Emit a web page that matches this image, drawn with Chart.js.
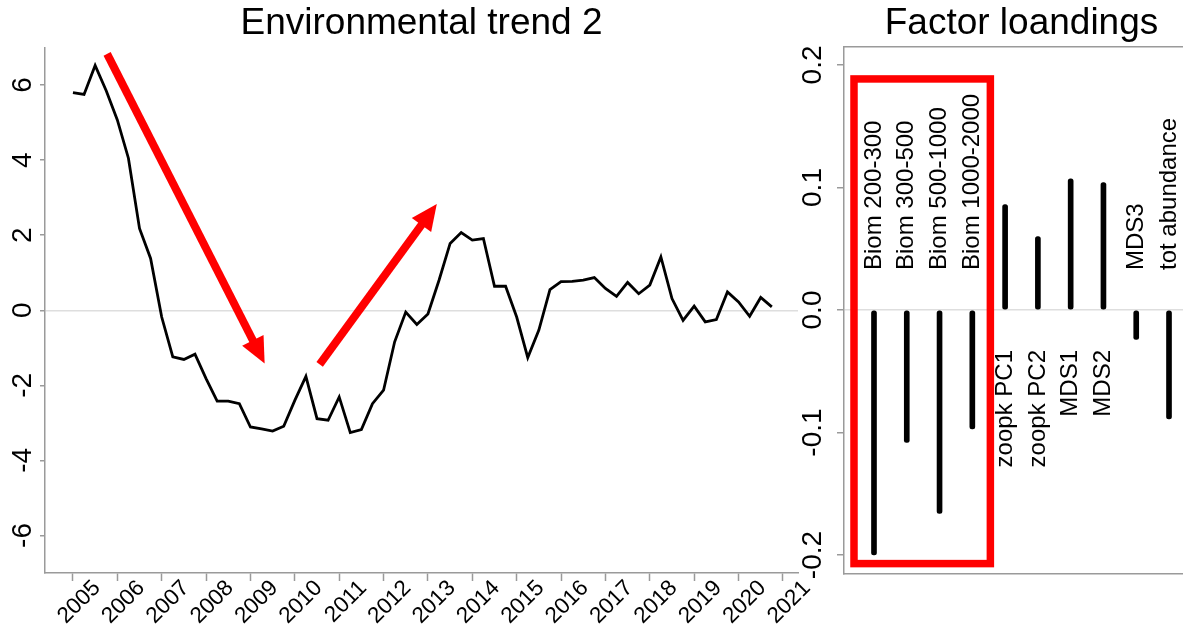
<!DOCTYPE html>
<html>
<head>
<meta charset="utf-8">
<title>Environmental trend 2 / Factor loandings</title>
<script src="https://cdn.jsdelivr.net/npm/chart.js@4.4.1/dist/chart.umd.min.js"></script>
<style>
    html, body { margin: 0; padding: 0; background: #fff; overflow: hidden; }
    body { width: 1183px; height: 632px; position: relative; }
    #trendBox { position: absolute; left: 0; top: 0; width: 830px; height: 632px; }
    #loadingBox { position: absolute; left: 790px; top: 0; width: 409px; height: 632px; }
</style>
</head>
<body>
<div id="trendBox"><canvas id="trendChart"></canvas></div>
<div id="loadingBox"><canvas id="loadingChart"></canvas></div>
<script>
// Environmental trend 2 - quarterly values, first one is 2005 Q1
const trendStartYear = 2005;
const trendValues = [
    5.80, 5.75, 6.52, 5.85,
    5.07, 4.05, 2.18, 1.38,
    -0.18, -1.24, -1.31, -1.17,
    -1.82, -2.42, -2.42, -2.49,
    -3.11, -3.16, -3.22, -3.09,
    -2.40, -1.76, -2.89, -2.93,
    -2.31, -3.26, -3.18, -2.49,
    -2.13, -0.84, -0.05, -0.38,
    -0.10, 0.80, 1.78, 2.07,
    1.87, 1.91, 0.64, 0.64,
    -0.18, -1.26, -0.53, 0.55,
    0.76, 0.77, 0.80, 0.87,
    0.58, 0.37, 0.74, 0.44,
    0.67, 1.42, 0.31, -0.27,
    0.11, -0.31, -0.25, 0.49,
    0.22, -0.16, 0.34, 0.09
];
const yearTicks = [2005, 2006, 2007, 2008, 2009, 2010, 2011, 2012, 2013,
    2014, 2015, 2016, 2017, 2018, 2019, 2020, 2021];
const trendTicks = [-6, -4, -2, 0, 2, 4, 6];

// Factor loadings
const loadingLabels = ['Biom 200-300', 'Biom 300-500', 'Biom 500-1000', 'Biom 1000-2000',
    'zoopk PC1', 'zoopk PC2', 'MDS1', 'MDS2', 'MDS3', 'tot abundance'];
const loadingValues = [-0.200, -0.108, -0.166, -0.097, 0.086, 0.060, 0.107, 0.104, -0.024, -0.089];
const loadingTicks = [-0.2, -0.1, 0, 0.1, 0.2];
const loadingTickLabels = ['-0.2', '-0.1', '0.0', '0.1', '0.2'];

const FONT = "'Liberation Sans', Arial, sans-serif";
const AXIS_GREY = '#9a9a9a';
Chart.defaults.font.family = FONT;
Chart.defaults.color = '#000';

// y tick labels turned 90 degrees (Chart.js only rotates x labels)
const rotatedYLabels = {
    id: 'rotatedYLabels',
    afterDraw(chart, args, opts) {
        const scale = chart.scales.y;
        const ctx = chart.ctx;
        ctx.save();
        ctx.font = opts.size + 'px ' + FONT;
        ctx.fillStyle = '#000';
        ctx.textAlign = 'center';
        ctx.textBaseline = 'middle';
        opts.values.forEach((v, i) => {
            ctx.save();
            ctx.translate(opts.x, scale.getPixelForValue(v));
            ctx.rotate(-Math.PI / 2);
            ctx.fillText(opts.labels[i], 0, 0);
            ctx.restore();
        });
        ctx.restore();
    }
};

// red arrows, given in data units
const redArrows = {
    id: 'redArrows',
    afterDatasetsDraw(chart, args, opts) {
        const { ctx, scales: { x, y } } = chart;
        ctx.save();
        ctx.strokeStyle = ctx.fillStyle = '#ff0000';
        ctx.lineWidth = opts.width;
        opts.arrows.forEach(a => {
            const x0 = x.getPixelForValue(a.from[0]), y0 = y.getPixelForValue(a.from[1]);
            const x1 = x.getPixelForValue(a.to[0]), y1 = y.getPixelForValue(a.to[1]);
            const len = Math.hypot(x1 - x0, y1 - y0);
            const ux = (x1 - x0) / len, uy = (y1 - y0) / len;
            const bx = x1 - ux * opts.head, by = y1 - uy * opts.head;
            ctx.beginPath();
            ctx.moveTo(x0, y0);
            ctx.lineTo(bx + ux, by + uy);
            ctx.stroke();
            ctx.beginPath();
            ctx.moveTo(x1, y1);
            ctx.lineTo(bx - uy * opts.half, by + ux * opts.half);
            ctx.lineTo(bx + uy * opts.half, by - ux * opts.half);
            ctx.closePath();
            ctx.fill();
        });
        ctx.restore();
    }
};

// vertical names next to each loading bar + red box
const loadingNotes = {
    id: 'loadingNotes',
    afterDatasetsDraw(chart, args, opts) {
        const { ctx, scales: { x, y } } = chart;
        const zero = y.getPixelForValue(0);
        const meta = chart.getDatasetMeta(0);
        ctx.save();
        ctx.font = opts.size + 'px ' + FONT;
        ctx.fillStyle = '#000';
        ctx.textBaseline = 'middle';
        meta.data.forEach((bar, i) => {
            const neg = loadingValues[i] < 0;
            ctx.save();
            ctx.translate(bar.x, neg ? zero - opts.gap : zero + opts.gap);
            ctx.rotate(-Math.PI / 2);
            ctx.textAlign = neg ? 'left' : 'right';
            ctx.fillText(loadingLabels[i], 0, 0);
            ctx.restore();
        });
        const b = opts.box;
        const left = x.getPixelForValue(b.x0), right = x.getPixelForValue(b.x1);
        const top = y.getPixelForValue(b.y1), bottom = y.getPixelForValue(b.y0);
        ctx.strokeStyle = '#ff0000';
        ctx.lineWidth = 7.5;
        ctx.strokeRect(left, top, right - left, bottom - top);
        ctx.restore();
    }
};

const zeroGrid = c => (c.tick && c.tick.value === 0 ? '#dedede' : 'rgba(0,0,0,0)');

new Chart(document.getElementById('trendChart'), {
    type: 'line',
    data: {
        datasets: [{
            data: trendValues.map((v, i) => ({ x: trendStartYear + i / 4, y: v })),
            borderColor: '#000',
            borderWidth: 2.8,
            pointRadius: 0,
            tension: 0,
            fill: false
        }]
    },
    options: {
        responsive: true,
        maintainAspectRatio: false,
        animation: false,
        layout: { padding: { left: 0, right: 32, top: 0, bottom: 0 } },
        scales: {
            x: {
                type: 'linear',
                min: 2004.37,
                max: 2021.34,
                afterBuildTicks: s => { s.ticks = yearTicks.map(v => ({ value: v })); },
                afterFit: s => { s.height = 59; s.paddingLeft = 0; s.paddingRight = 0; },
                grid: { drawOnChartArea: false, tickLength: 8, tickColor: AXIS_GREY, tickWidth: 1.5 },
                border: { color: AXIS_GREY, width: 1.5 },
                ticks: {
                    minRotation: 45, maxRotation: 45, autoSkip: false,
                    labelOffset: 24, padding: -6,
                    font: { size: 22.5 },
                    callback: v => String(v)
                }
            },
            y: {
                min: -7,
                max: 7,
                afterBuildTicks: s => { s.ticks = trendTicks.map(v => ({ value: v })); },
                afterFit: s => { s.width = 45; },
                grid: { color: zeroGrid, lineWidth: 1.5, tickLength: 5, tickColor: AXIS_GREY, tickWidth: 1.5 },
                border: { color: AXIS_GREY, width: 1.5 },
                ticks: { display: false }
            }
        },
        plugins: {
            legend: { display: false },
            tooltip: { enabled: false },
            title: {
                display: true,
                text: 'Environmental trend 2',
                fullSize: false,
                color: '#000',
                font: { size: 37, weight: 'normal' },
                padding: { top: 1.3, bottom: 1.8 }
            },
            rotatedYLabels: { values: trendTicks, labels: trendTicks.map(String), x: 23, size: 28 },
            redArrows: {
                width: 8, head: 26, half: 12,
                arrows: [
                    { from: [2005.77, 6.83], to: [2009.32, -1.42] },
                    { from: [2010.56, -1.44], to: [2013.20, 2.83] }
                ]
            }
        }
    },
    plugins: [rotatedYLabels, redArrows]
});

new Chart(document.getElementById('loadingChart'), {
    type: 'bar',
    data: {
        datasets: [{
            data: loadingValues.map((v, i) => ({ x: i + 1, y: v })),
            backgroundColor: '#000',
            barThickness: 5,
            borderRadius: 2.5,
            borderSkipped: false
        }]
    },
    options: {
        responsive: true,
        maintainAspectRatio: false,
        animation: false,
        layout: { padding: 0 },
        scales: {
            x: {
                type: 'linear',
                offset: false,
                min: 0.085,
                max: 10.915,
                afterFit: s => { s.height = 58.6; s.paddingLeft = 0; s.paddingRight = 0; },
                grid: { display: false },
                border: { color: AXIS_GREY, width: 1.5 },
                ticks: { display: false }
            },
            xTop: {
                type: 'linear',
                axis: 'x',
                position: 'top',
                min: 0.085,
                max: 10.915,
                afterFit: s => { s.height = 0; s.paddingLeft = 0; s.paddingRight = 0; },
                grid: { display: false },
                border: { color: AXIS_GREY, width: 1.5 },
                ticks: { display: false }
            },
            y: {
                min: -0.215,
                max: 0.215,
                afterBuildTicks: s => { s.ticks = loadingTicks.map(v => ({ value: v })); },
                afterFit: s => { s.width = 54; },
                grid: { color: zeroGrid, lineWidth: 1.5, tickLength: 7, tickColor: AXIS_GREY, tickWidth: 1.5 },
                border: { color: AXIS_GREY, width: 1.5 },
                ticks: { display: false }
            }
        },
        plugins: {
            legend: { display: false },
            tooltip: { enabled: false },
            title: {
                display: true,
                text: 'Factor loandings',
                fullSize: false,
                color: '#000',
                font: { size: 37, weight: 'normal' },
                padding: { top: 1.3, bottom: 0.9 }
            },
            rotatedYLabels: { values: loadingTicks, labels: loadingTickLabels, x: 23, size: 28 },
            loadingNotes: {
                size: 24, gap: 40,
                box: { x0: 0.39, x1: 4.55, y0: -0.207, y1: 0.1886 }
            }
        }
    },
    plugins: [rotatedYLabels, loadingNotes]
});
</script>
</body>
</html>
